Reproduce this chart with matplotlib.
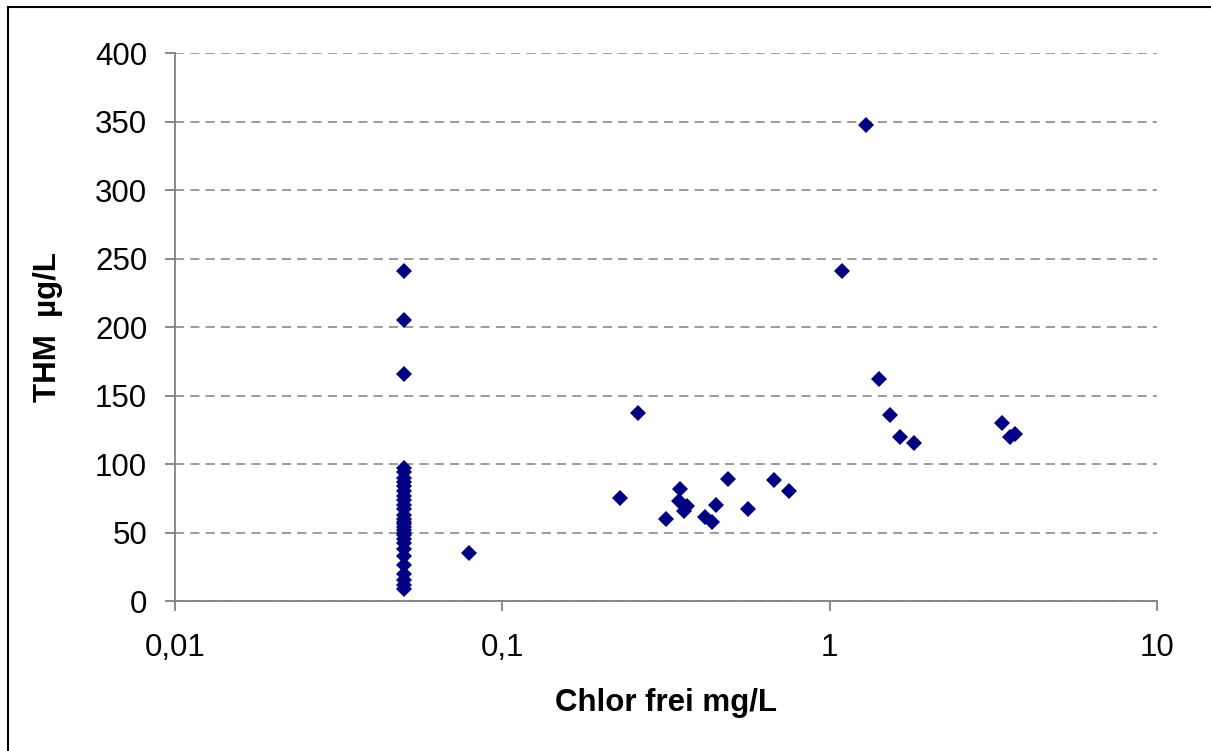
import matplotlib.pyplot as plt
from matplotlib.patches import Rectangle
from matplotlib.ticker import FixedLocator, NullLocator

plt.rcParams['font.family'] = ['Liberation Sans', 'DejaVu Sans']

# Free chlorine (mg/L) and THM (ug/L)
chlor_low = [0.05] * 30
thm_low = [241, 205, 166, 97, 94, 90, 87, 84, 80, 77, 74, 70, 67, 63, 60,
           58, 56, 54, 52, 50, 48, 45, 42, 38, 33, 26, 20, 15, 12, 9]

chlor_mid = [0.079, 0.229, 0.259, 0.316, 0.349, 0.347, 0.366, 0.358, 0.416,
             0.436, 0.450, 0.489, 0.562, 0.676, 0.753]
thm_mid = [35, 75, 137.5, 60, 82, 73, 69, 66, 61.5, 57.5, 70, 89, 67, 88, 80.5]

chlor_high = [1.09, 1.29, 1.41, 1.53, 1.64, 1.81, 3.36, 3.56, 3.68]
thm_high = [241, 347.5, 162, 136, 120, 115.5, 130, 119.5, 122]

x_ticks = [0.01, 0.1, 1, 10]
x_tick_labels = ['0,01', '0,1', '1', '10']
y_ticks = [0, 50, 100, 150, 200, 250, 300, 350, 400]

fig = plt.figure(figsize=(12.11, 7.51), dpi=100)
ax = fig.add_axes([0.1445, 0.1997, 0.8109, 0.7297])

x_all = chlor_low + chlor_mid + chlor_high
y_all = thm_low + thm_mid + thm_high
ax.plot(x_all, y_all, linestyle='none', marker='D', markersize=7.8,
        color='#000080', markeredgewidth=0, zorder=3)

ax.set_xscale('log')
ax.set_xlim(0.01, 10)
ax.set_ylim(0, 400)
ax.xaxis.set_major_locator(FixedLocator(x_ticks))
ax.xaxis.set_minor_locator(NullLocator())
ax.set_xticks(x_ticks)
ax.set_xticklabels(x_tick_labels)
ax.set_yticks(y_ticks)

ax.yaxis.grid(True, linestyle=(0, (6, 4)), color='#808080', linewidth=1.1)
ax.set_axisbelow(True)

for side in ['top', 'right']:
    ax.spines[side].set_visible(False)
for side in ['left', 'bottom']:
    ax.spines[side].set_color('#808080')
    ax.spines[side].set_linewidth(1.3)

ax.tick_params(axis='both', direction='out', length=7, width=1.3,
               color='#808080', labelsize=22.5, labelcolor='black')
ax.tick_params(axis='x', pad=16)
ax.tick_params(axis='y', pad=13)

ax.set_xlabel('Chlor frei mg/L', fontsize=22.5, fontweight='bold', labelpad=18)
ax.set_ylabel('THM  µg/L', fontsize=22.5, fontweight='bold', labelpad=23)

# outer frame of the chart area
fig.patches.append(Rectangle((8 / 1211, -0.1), 1.2, 1.1 - 7 / 751,
                             transform=fig.transFigure, fill=False,
                             edgecolor='black', linewidth=1.5))

fig.savefig('out.png', dpi=100)
